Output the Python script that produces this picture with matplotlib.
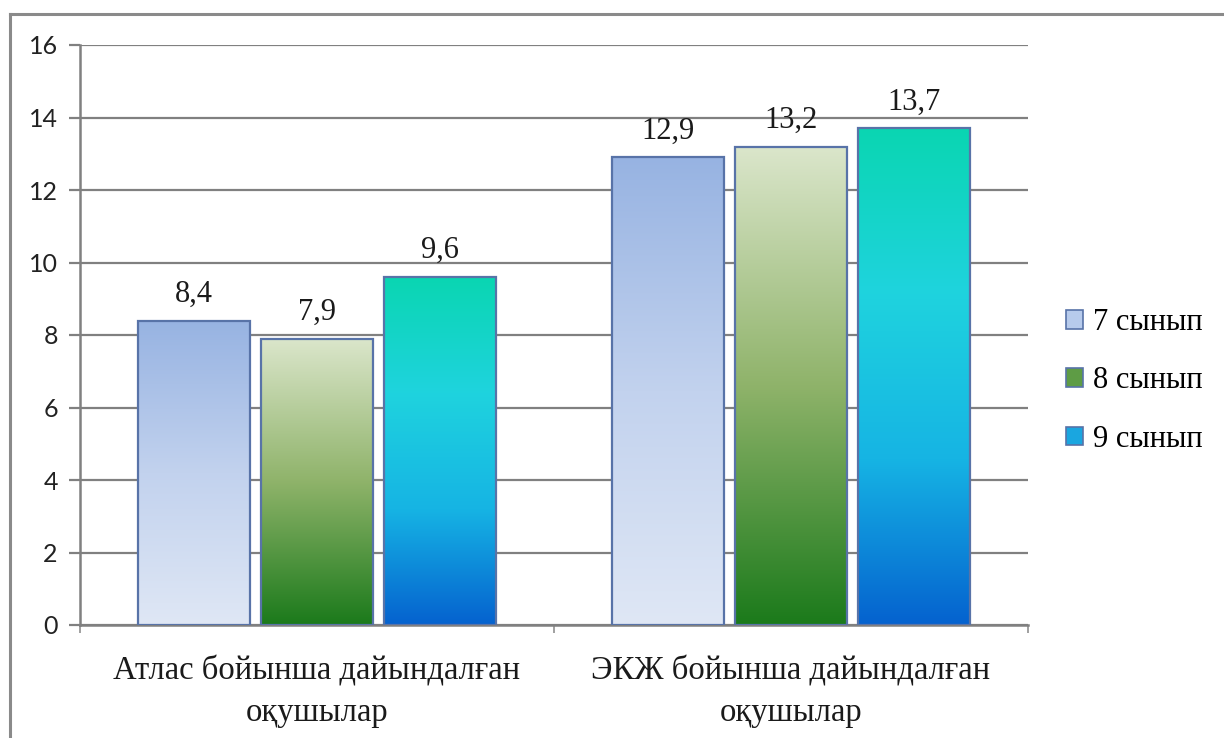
import numpy as np
import matplotlib
matplotlib.use("Agg")
import matplotlib.pyplot as plt
from matplotlib.colors import LinearSegmentedColormap
from matplotlib.patches import Rectangle
from matplotlib.lines import Line2D

categories = ["Атлас бойынша дайындалған\nоқушылар", "ЭКЖ бойынша дайындалған\nоқушылар"]
series_names = ["7 сынып", "8 сынып", "9 сынып"]
values = {
    "7 сынып": [8.4, 12.9],
    "8 сынып": [7.9, 13.2],
    "9 сынып": [9.6, 13.7],
}
value_labels = {
    "7 сынып": ["8,4", "12,9"],
    "8 сынып": ["7,9", "13,2"],
    "9 сынып": ["9,6", "13,7"],
}
y_ticks = [0, 2, 4, 6, 8, 10, 12, 14, 16]

# gradient stops, bottom -> top
gradients = {
    "7 сынып": ["#dfe7f5", "#c2d2ee", "#97b3e2"],
    "8 сынып": ["#1b7a1b", "#8fb36a", "#dbe6cb"],
    "9 сынып": ["#0562cf", "#16b4e4", "#1fd3de", "#0ad6b2"],
}
legend_colors = {"7 сынып": "#b7cbec", "8 сынып": "#5e9c45", "9 сынып": "#1aa6e0"}
edge_color = "#5873a8"

serif = ["Liberation Serif", "DejaVu Serif"]
sans = ["Lato", "Liberation Sans", "DejaVu Sans"]

fig = plt.figure(figsize=(12.24, 7.38), dpi=100)
fig.patch.set_facecolor("white")
# outer chart frame (top and left edges)
frame_kw = dict(transform=fig.transFigure, color="#8a8a8a", linewidth=2.2)
fig.add_artist(Line2D([10 / 1224, 1.0], [1 - 14 / 738, 1 - 14 / 738], **frame_kw))
fig.add_artist(Line2D([10 / 1224, 10 / 1224], [0.0, 1 - 14 / 738], **frame_kw))

ax = fig.add_axes([80 / 1224, 1 - 625 / 738, (1028 - 80) / 1224, (625 - 45) / 738])

x = np.arange(len(categories))
width = 0.236
step = 0.26

for i, name in enumerate(series_names):
    cmap = LinearSegmentedColormap.from_list(name, gradients[name])
    grad = np.linspace(0, 1, 256).reshape(-1, 1)
    for j, v in enumerate(values[name]):
        xc = x[j] + (i - 1) * step
        x0, x1 = xc - width / 2, xc + width / 2
        ax.imshow(grad, extent=(x0, x1, 0, v), origin="lower", aspect="auto",
                  cmap=cmap, zorder=3, interpolation="bilinear")
        ax.add_patch(Rectangle((x0, 0), width, v, fill=False,
                               edgecolor=edge_color, linewidth=1.6, zorder=4))
        ax.text(xc, v + 0.33, value_labels[name][j], ha="center", va="bottom",
                fontsize=22, family=serif, color="#1a1a1a", zorder=5)

ax.set_xlim(-0.5, 1.5)
ax.set_ylim(0, 16)

ax.set_yticks(y_ticks)
ax.set_yticklabels([str(t) for t in y_ticks], family=sans, fontsize=18, color="#222222")
ax.yaxis.grid(True, color="#808080", linewidth=1.6, zorder=0)
ax.set_axisbelow(True)
ax.tick_params(axis="y", length=8, width=1.6, color="#808080", pad=8)

ax.set_xticks([-0.5, 0.5, 1.5])
ax.set_xticklabels([])
ax.tick_params(axis="x", length=6, width=1.4, color="#a0a0a0")
ax.set_xticks(x, minor=True)
ax.set_xticklabels(categories, minor=True, family=serif, fontsize=23.5, color="#1a1a1a",
                   linespacing=1.45)
ax.tick_params(axis="x", which="minor", length=0, pad=22)

for s in ["top", "right"]:
    ax.spines[s].set_visible(False)
for s in ["left", "bottom"]:
    ax.spines[s].set_color("#808080")
    ax.spines[s].set_linewidth(1.8)

handles = [Rectangle((0, 0), 1, 1, facecolor=legend_colors[n], edgecolor=edge_color, linewidth=1.2)
           for n in series_names]
leg = fig.legend(handles, series_names, loc="center left",
                 bbox_to_anchor=(1066 / 1224, 1 - 381 / 738),
                 frameon=False, prop={"family": serif, "size": 22},
                 handlelength=0.55, handleheight=0.55, handletextpad=0.33,
                 labelspacing=0.95, borderpad=0, borderaxespad=0)

fig.savefig("out.png", dpi=100, facecolor="white")
